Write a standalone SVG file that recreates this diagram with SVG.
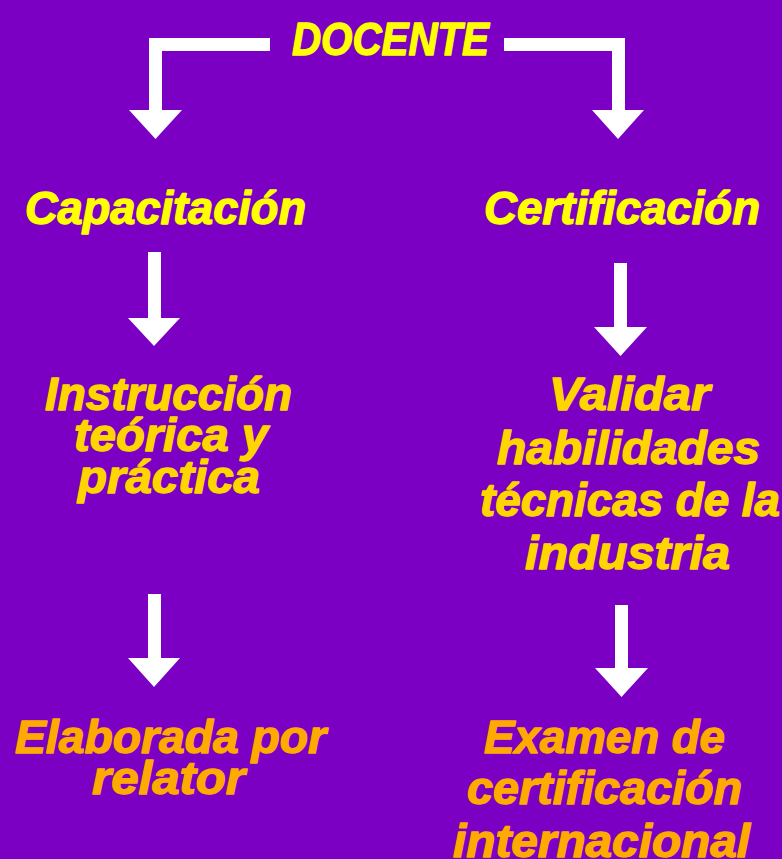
<svg xmlns="http://www.w3.org/2000/svg" width="782" height="859" viewBox="0 0 782 859">
<style>
text{font-family:"Liberation Sans",Arial,sans-serif;font-weight:bold;font-style:italic;font-size:46px;stroke-width:1.4;stroke-linejoin:round}
.y{fill:#FFFF00;stroke:#FFFF00}.g{fill:#FFD500;stroke:#FFD500}.o{fill:#FFAA00;stroke:#FFAA00}
.arr{fill:#FFFFFF}
</style>
<rect width="782" height="859" fill="#7B00C3"/>
<g id="connectors">
<polygon class="arr" points="270,38 149,38 149,110 129,110 155.5,139 182,110 162,110 162,51 270,51"/>
<polygon class="arr" points="504,38 625,38 625,110 644,110 618,139 592,110 612,110 612,51 504,51"/>
<polygon class="arr" points="148,252 161,252 161,318 180,318 154,346 128,318 148,318"/>
<polygon class="arr" points="614,263 627,263 627,327 647,327 620.5,356 594,327 614,327"/>
<polygon class="arr" points="148,594 161,594 161,658 180,658 154,687 128,658 148,658"/>
<polygon class="arr" points="615,605 628,605 628,668 648,668 621.5,697 595,668 615,668"/>
</g>
<g id="docente"><text class="y" x="292" y="55" textLength="197" lengthAdjust="spacingAndGlyphs">DOCENTE</text></g>
<g id="capacitacion"><text class="y" x="25" y="224" textLength="281" lengthAdjust="spacingAndGlyphs">Capacitación</text></g>
<g id="certificacion"><text class="y" x="484" y="224" textLength="276" lengthAdjust="spacingAndGlyphs">Certificación</text></g>
<g id="instruccion">
<text class="g" x="45" y="410" textLength="247" lengthAdjust="spacingAndGlyphs">Instrucción</text>
<text class="g" x="74" y="451" textLength="194" lengthAdjust="spacingAndGlyphs">teórica y</text>
<text class="g" x="78" y="493" textLength="182" lengthAdjust="spacingAndGlyphs">práctica</text>
</g>
<g id="validar">
<text class="g" x="549" y="410" textLength="161" lengthAdjust="spacingAndGlyphs">Validar</text>
<text class="g" x="497" y="464" textLength="263" lengthAdjust="spacingAndGlyphs">habilidades</text>
<text class="g" x="480" y="516" textLength="300" lengthAdjust="spacingAndGlyphs">técnicas de la</text>
<text class="g" x="525" y="569" textLength="205" lengthAdjust="spacingAndGlyphs">industria</text>
</g>
<g id="elaborada">
<text class="o" x="15" y="753" textLength="311" lengthAdjust="spacingAndGlyphs">Elaborada por</text>
<text class="o" x="92" y="794" textLength="153" lengthAdjust="spacingAndGlyphs">relator</text>
</g>
<g id="examen">
<text class="o" x="484" y="753" textLength="241" lengthAdjust="spacingAndGlyphs">Examen de</text>
<text class="o" x="467" y="804" textLength="275" lengthAdjust="spacingAndGlyphs">certificación</text>
<text class="o" x="453" y="857" textLength="297" lengthAdjust="spacingAndGlyphs">internacional</text>
</g>
</svg>
